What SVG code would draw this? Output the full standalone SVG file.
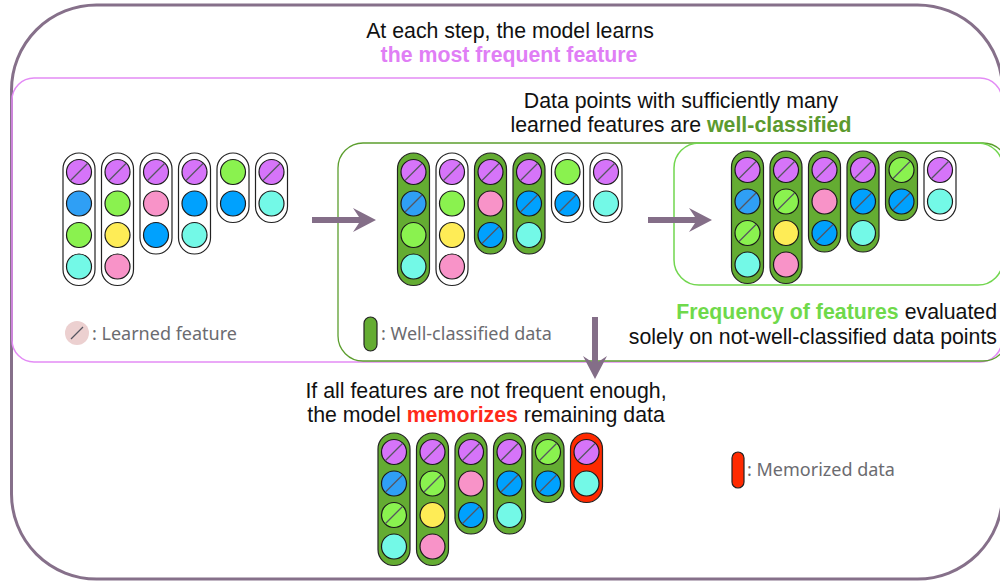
<svg xmlns="http://www.w3.org/2000/svg" xmlns:xlink="http://www.w3.org/1999/xlink" width="1000" height="581" viewBox="0 0 1000 581">
<style>
.t{font-family:"Liberation Sans",Arial,sans-serif;font-size:21.3px;fill:#111}
.b{font-weight:bold}
.lg{font-family:"Noto Sans","Open Sans",sans-serif;font-size:18px;fill:#6b6b70}
.wp{fill:#fff;stroke:#222;stroke-width:1.2}
.gp{fill:#64ac32;stroke:#222;stroke-width:1.2}
.rp{fill:#ff2a00;stroke:#222;stroke-width:1.2}
circle{stroke:#1a1a1a;stroke-width:1.2}
.P{fill:#d674f9}.B1{fill:#2f9ff5}.B{fill:#00a1fe}.G{fill:#8af24f}.C{fill:#73f9e7}.Y{fill:#feec56}.K{fill:#f893c8}
.arr{fill:#846e88}
</style>
<defs>
<path id="sl" d="M-8.5,8.5 L8.5,-8.5" stroke="#555560" stroke-width="1.3"/>
</defs>
<g id="frames">
<rect id="outer" x="11.5" y="5" width="991" height="574" rx="85" fill="none" stroke="#86708a" stroke-width="3"/>
<rect id="step-box" x="12" y="78" width="990" height="284" rx="22" fill="none" stroke="#e38cf5" stroke-width="1.5"/>
<rect id="wc-box" x="338" y="143" width="670" height="218" rx="25" fill="none" stroke="#5c9e2e" stroke-width="1.3"/>
<rect id="freq-box" x="674" y="143" width="329" height="142" rx="25" fill="none" stroke="#72d64f" stroke-width="1.5"/>
</g>
<g id="texts">
<text class="t" x="510" y="38" text-anchor="middle">At each step, the model learns</text>
<text class="t b" x="509" y="62" text-anchor="middle" style="fill:#e07ef5">the most frequent feature</text>
<text class="t" x="681" y="108" text-anchor="middle">Data points with sufficiently many</text>
<text class="t" x="681" y="132" text-anchor="middle">learned features are <tspan class="b" style="fill:#5c9a2f">well-classified</tspan></text>
<text class="t" x="997" y="319" text-anchor="end"><tspan class="b" style="fill:#6fd94a">Frequency of features</tspan> evaluated</text>
<text class="t" x="997" y="344" text-anchor="end">solely on not-well-classified data points</text>
<text class="t" x="486" y="398" text-anchor="middle">If all features are not frequent enough,</text>
<text class="t" x="486" y="422" text-anchor="middle">the model <tspan class="b" style="fill:#ff2a1a">memorizes</tspan> remaining data</text>
</g>
<g id="legend-learned">
<circle cx="77" cy="333" r="12" style="fill:#ecd0d0;stroke:none"/>
<path d="M71,339 L83,327" stroke="#555560" stroke-width="1.3"/>
<text class="lg" x="92" y="339.5">: Learned feature</text>
</g>
<g id="legend-wc">
<rect class="gp" x="364" y="317" width="13" height="34" rx="6.5"/>
<text class="lg" x="381" y="339.5">: Well-classified data</text>
</g>
<g id="legend-mem">
<rect class="rp" x="732" y="452" width="12" height="36" rx="6"/>
<text class="lg" x="747" y="475.5">: Memorized data</text>
</g>
<g id="connectors">
<polygon class="arr" points="312,217 359,217 353,208 376,220 353,232 359,223 312,223"/>
<polygon class="arr" points="648,217 695,217 689,208 712,220 689,232 695,223 648,223"/>
<polygon class="arr" points="592,317 598,317 598,362 607,356 595,379 583,356 592,362"/>
</g>
<g id="group1">
<rect class="wp" x="63" y="153" width="32" height="132.5" rx="16"/>
<circle class="P" cx="79" cy="172" r="12.5"/><use href="#sl" x="79" y="172"/>
<circle class="B1" cx="79" cy="203.5" r="12.5"/>
<circle class="G" cx="79" cy="235" r="12.5"/>
<circle class="C" cx="79" cy="266.5" r="12.5"/>
<rect class="wp" x="101.5" y="153" width="32" height="132.5" rx="16"/>
<circle class="P" cx="117.5" cy="172" r="12.5"/><use href="#sl" x="117.5" y="172"/>
<circle class="G" cx="117.5" cy="203.5" r="12.5"/>
<circle class="Y" cx="117.5" cy="235" r="12.5"/>
<circle class="K" cx="117.5" cy="266.5" r="12.5"/>
<rect class="wp" x="140" y="153" width="32" height="101" rx="16"/>
<circle class="P" cx="156" cy="172" r="12.5"/><use href="#sl" x="156" y="172"/>
<circle class="K" cx="156" cy="203.5" r="12.5"/>
<circle class="B" cx="156" cy="235" r="12.5"/>
<rect class="wp" x="178.5" y="153" width="32" height="101" rx="16"/>
<circle class="P" cx="194.5" cy="172" r="12.5"/><use href="#sl" x="194.5" y="172"/>
<circle class="B" cx="194.5" cy="203.5" r="12.5"/>
<circle class="C" cx="194.5" cy="235" r="12.5"/>
<rect class="wp" x="217" y="153" width="32" height="69.5" rx="16"/>
<circle class="G" cx="233" cy="172" r="12.5"/>
<circle class="B" cx="233" cy="203.5" r="12.5"/>
<rect class="wp" x="255.5" y="153" width="32" height="69.5" rx="16"/>
<circle class="P" cx="271.5" cy="172" r="12.5"/><use href="#sl" x="271.5" y="172"/>
<circle class="C" cx="271.5" cy="203.5" r="12.5"/>
</g>
<g id="group2">
<rect class="gp" x="397.5" y="153" width="32" height="132.5" rx="16"/>
<circle class="P" cx="413.5" cy="172" r="12.5"/><use href="#sl" x="413.5" y="172"/>
<circle class="B1" cx="413.5" cy="203.5" r="12.5"/><use href="#sl" x="413.5" y="203.5"/>
<circle class="G" cx="413.5" cy="235" r="12.5"/>
<circle class="C" cx="413.5" cy="266.5" r="12.5"/>
<rect class="wp" x="436" y="153" width="32" height="132.5" rx="16"/>
<circle class="P" cx="452" cy="172" r="12.5"/><use href="#sl" x="452" y="172"/>
<circle class="G" cx="452" cy="203.5" r="12.5"/>
<circle class="Y" cx="452" cy="235" r="12.5"/>
<circle class="K" cx="452" cy="266.5" r="12.5"/>
<rect class="gp" x="474.5" y="153" width="32" height="101" rx="16"/>
<circle class="P" cx="490.5" cy="172" r="12.5"/><use href="#sl" x="490.5" y="172"/>
<circle class="K" cx="490.5" cy="203.5" r="12.5"/>
<circle class="B" cx="490.5" cy="235" r="12.5"/><use href="#sl" x="490.5" y="235"/>
<rect class="gp" x="513" y="153" width="32" height="101" rx="16"/>
<circle class="P" cx="529" cy="172" r="12.5"/><use href="#sl" x="529" y="172"/>
<circle class="B" cx="529" cy="203.5" r="12.5"/><use href="#sl" x="529" y="203.5"/>
<circle class="C" cx="529" cy="235" r="12.5"/>
<rect class="wp" x="551.5" y="153" width="32" height="69.5" rx="16"/>
<circle class="G" cx="567.5" cy="172" r="12.5"/>
<circle class="B" cx="567.5" cy="203.5" r="12.5"/><use href="#sl" x="567.5" y="203.5"/>
<rect class="wp" x="590" y="153" width="32" height="69.5" rx="16"/>
<circle class="P" cx="606" cy="172" r="12.5"/><use href="#sl" x="606" y="172"/>
<circle class="C" cx="606" cy="203.5" r="12.5"/>
</g>
<g id="group3">
<rect class="gp" x="731.5" y="151" width="32" height="132.5" rx="16"/>
<circle class="P" cx="747.5" cy="170" r="12.5"/><use href="#sl" x="747.5" y="170"/>
<circle class="B1" cx="747.5" cy="201.5" r="12.5"/><use href="#sl" x="747.5" y="201.5"/>
<circle class="G" cx="747.5" cy="233" r="12.5"/><use href="#sl" x="747.5" y="233"/>
<circle class="C" cx="747.5" cy="264.5" r="12.5"/>
<rect class="gp" x="770" y="151" width="32" height="132.5" rx="16"/>
<circle class="P" cx="786" cy="170" r="12.5"/><use href="#sl" x="786" y="170"/>
<circle class="G" cx="786" cy="201.5" r="12.5"/><use href="#sl" x="786" y="201.5"/>
<circle class="Y" cx="786" cy="233" r="12.5"/>
<circle class="K" cx="786" cy="264.5" r="12.5"/>
<rect class="gp" x="808.5" y="151" width="32" height="101" rx="16"/>
<circle class="P" cx="824.5" cy="170" r="12.5"/><use href="#sl" x="824.5" y="170"/>
<circle class="K" cx="824.5" cy="201.5" r="12.5"/>
<circle class="B" cx="824.5" cy="233" r="12.5"/><use href="#sl" x="824.5" y="233"/>
<rect class="gp" x="847" y="151" width="32" height="101" rx="16"/>
<circle class="P" cx="863" cy="170" r="12.5"/><use href="#sl" x="863" y="170"/>
<circle class="B" cx="863" cy="201.5" r="12.5"/><use href="#sl" x="863" y="201.5"/>
<circle class="C" cx="863" cy="233" r="12.5"/>
<rect class="gp" x="885.5" y="151" width="32" height="69.5" rx="16"/>
<circle class="G" cx="901.5" cy="170" r="12.5"/><use href="#sl" x="901.5" y="170"/>
<circle class="B" cx="901.5" cy="201.5" r="12.5"/><use href="#sl" x="901.5" y="201.5"/>
<rect class="wp" x="924" y="151" width="32" height="69.5" rx="16"/>
<circle class="P" cx="940" cy="170" r="12.5"/><use href="#sl" x="940" y="170"/>
<circle class="C" cx="940" cy="201.5" r="12.5"/>
</g>
<g id="group4">
<rect class="gp" x="378" y="433" width="32" height="132.5" rx="16"/>
<circle class="P" cx="394" cy="452" r="12.5"/><use href="#sl" x="394" y="452"/>
<circle class="B1" cx="394" cy="483.5" r="12.5"/><use href="#sl" x="394" y="483.5"/>
<circle class="G" cx="394" cy="515" r="12.5"/><use href="#sl" x="394" y="515"/>
<circle class="C" cx="394" cy="546.5" r="12.5"/>
<rect class="gp" x="416.5" y="433" width="32" height="132.5" rx="16"/>
<circle class="P" cx="432.5" cy="452" r="12.5"/><use href="#sl" x="432.5" y="452"/>
<circle class="G" cx="432.5" cy="483.5" r="12.5"/><use href="#sl" x="432.5" y="483.5"/>
<circle class="Y" cx="432.5" cy="515" r="12.5"/>
<circle class="K" cx="432.5" cy="546.5" r="12.5"/>
<rect class="gp" x="455" y="433" width="32" height="101" rx="16"/>
<circle class="P" cx="471" cy="452" r="12.5"/><use href="#sl" x="471" y="452"/>
<circle class="K" cx="471" cy="483.5" r="12.5"/>
<circle class="B" cx="471" cy="515" r="12.5"/><use href="#sl" x="471" y="515"/>
<rect class="gp" x="493.5" y="433" width="32" height="101" rx="16"/>
<circle class="P" cx="509.5" cy="452" r="12.5"/><use href="#sl" x="509.5" y="452"/>
<circle class="B" cx="509.5" cy="483.5" r="12.5"/><use href="#sl" x="509.5" y="483.5"/>
<circle class="C" cx="509.5" cy="515" r="12.5"/>
<rect class="gp" x="532" y="433" width="32" height="69.5" rx="16"/>
<circle class="G" cx="548" cy="452" r="12.5"/><use href="#sl" x="548" y="452"/>
<circle class="B" cx="548" cy="483.5" r="12.5"/><use href="#sl" x="548" y="483.5"/>
<rect class="rp" x="570.5" y="433" width="32" height="69.5" rx="16"/>
<circle class="P" cx="586.5" cy="452" r="12.5"/><use href="#sl" x="586.5" y="452"/>
<circle class="C" cx="586.5" cy="483.5" r="12.5"/>
</g>
</svg>
